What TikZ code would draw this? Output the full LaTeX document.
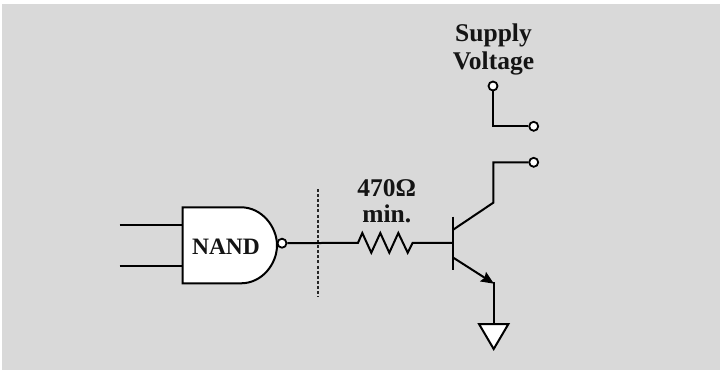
\documentclass[tikz,border=0pt]{standalone}
\usepackage{fontspec}
\setmainfont{Liberation Serif}
\usetikzlibrary{arrows.meta}
\definecolor{bggray}{HTML}{D9D9D9}
\tikzset{
  wire/.style={draw=black,line width=2bp,line join=miter},
  term/.style={circle,draw=black,fill=white,line width=1.8bp,inner sep=0pt,minimum size=9bp},
  lbl/.style={font=\bfseries\fontsize{25.5bp}{27bp}\selectfont,anchor=base,inner sep=0pt,text=black!92},
  gatelbl/.style={font=\bfseries\fontsize{23.5bp}{25bp}\selectfont,anchor=base,inner sep=0pt,text=black!92},
  solid shape/.style={draw=black,fill=white,line width=2bp,line join=miter}
}
\begin{document}
\begin{tikzpicture}[x=1bp,y=-1bp]
\useasboundingbox (0,0) rectangle (720,370);
\fill[bggray] (2,4) rectangle (720,370);
% NAND gate
\coordinate (inA) at (119.5,225);
\coordinate (inB) at (119.5,265.7);
\coordinate (gA) at (182.5,225);
\coordinate (gB) at (182.5,265.7);
\draw[wire] (inA) -- (gA);
\draw[wire] (inB) -- (gB);
\draw[solid shape] (182.5,207.3) -- (241,207.3)
  .. controls (262,207.3) and (277,227) .. (277,245.3)
  .. controls (277,264) and (262,283.3) .. (241,283.3)
  -- (182.5,283.3) -- cycle;
\node[gatelbl] (nand) at (226,254) {NAND};
\node[term] (bub) at (282,243.2) {};
% dashed boundary
\coordinate (dTop) at (317.5,189);
\coordinate (dBot) at (317.5,297);
\draw[line width=2bp,draw=black!85,dash pattern=on 3bp off 2.1bp] (dTop) -- (dBot);
% resistor and base
\coordinate (rL) at (358,242.8);
\coordinate (rR) at (412.7,242.8);
\coordinate (base) at (452.7,242.8);
\draw[wire] (bub) -- (rL) -- (362.3,233) -- (371.3,252.7) -- (380.3,233) -- (389.3,252.7) -- (398.3,233) -- (407.7,252.7) -- (rR) -- (base);
\node[lbl] (res) at (386.7,196.7) {470Ω};
\node[lbl] (min) at (386.7,222.7) {min.};
% transistor
\coordinate (bT) at (452.7,216.7);
\coordinate (bB) at (452.7,270);
\draw[wire] (bT) -- (bB);
\node[term] (tC) at (533.7,162.3) {};
\coordinate (cE) at (493.3,202.7);
\draw[wire] (452.7,230) -- (cE) -- (493.3,162.3) -- (tC);
% emitter
\coordinate (eA) at (452.7,257.3);
\coordinate (eB) at (494,283.7);
\draw[wire,-{Stealth[length=13bp,width=11bp,inset=2bp]}] (eA) -- (eB);
\coordinate (gndT) at (493.7,324);
\draw[wire] (493.7,282) -- (gndT);
\draw[solid shape] (479,324) -- (508.4,324) -- (493.7,349) -- cycle;
% supply
\node[lbl] (sup) at (493.5,41.7) {Supply};
\node[lbl] (vol) at (493.5,69) {Voltage};
\node[term] (tS) at (493,86) {};
\node[term] (tM) at (533.7,126.3) {};
\draw[wire] (tS) -- (493,126.3) -- (tM);
\end{tikzpicture}
\end{document}
